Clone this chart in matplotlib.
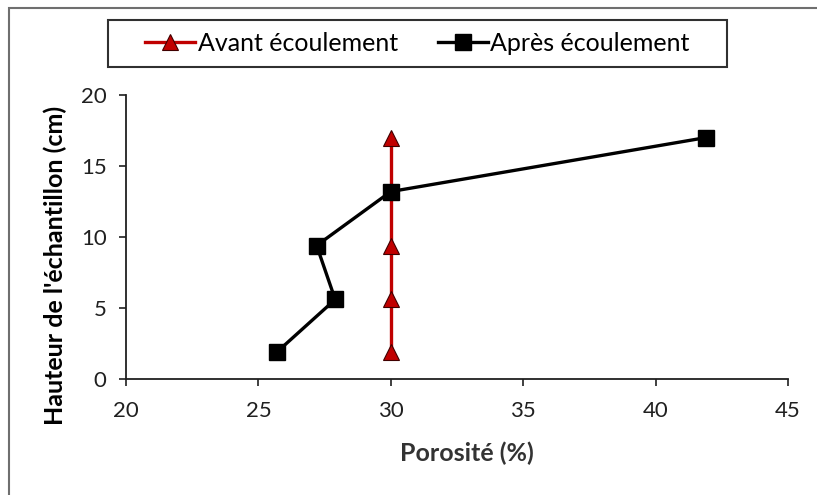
import matplotlib
matplotlib.use("Agg")
import matplotlib.pyplot as plt
from matplotlib.patches import Rectangle

# Data
avant_x = [30, 30, 30, 30]
avant_y = [1.9, 5.6, 9.4, 17.0]
apres_x = [25.7, 27.9, 27.2, 30.0, 41.9]
apres_y = [1.9, 5.6, 9.4, 13.2, 17.0]
x_ticks = [20, 25, 30, 35, 40, 45]
y_ticks = [0, 5, 10, 15, 20]

plt.rcParams['font.family'] = ['Lato', 'DejaVu Sans']

fig = plt.figure(figsize=(8.17, 4.95), dpi=100)
ax = fig.add_axes([126 / 817, 1 - 379 / 495, (788 - 126) / 817, (379 - 95) / 495])

red = '#C00000'
ax.plot(avant_x, avant_y, color=red, lw=2.4, marker='^', ms=12,
        mfc=red, mec='#400000', mew=0.8, label='Avant écoulement', zorder=3)
ax.plot(apres_x, apres_y, color='black', lw=2.4, marker='s', ms=11.5,
        mfc='black', mec='black', label='Après écoulement', zorder=4)

ax.set_xlim(20, 45)
ax.set_ylim(0, 20)
ax.set_xticks(x_ticks)
ax.set_yticks(y_ticks)
ax.tick_params(labelsize=16, direction='out', length=5, color='#202020', width=1.2,
               labelcolor='#202020')
ax.tick_params(axis='x', pad=11)
ax.tick_params(axis='y', pad=9)
for s in ['top', 'right']:
    ax.spines[s].set_visible(False)
for s in ['left', 'bottom']:
    ax.spines[s].set_color('#202020')
    ax.spines[s].set_linewidth(1.3)

ax.set_xlabel('Porosité (%)', fontsize=18, fontweight='bold', color='#333333')
ax.set_ylabel("Hauteur de l'échantillon (cm)", fontsize=18, fontweight='bold')
ax.xaxis.set_label_coords((467 - 126) / 662, -(453 - 379) / 284)
ax.yaxis.set_label_coords(-(126 - 55) / 662, (379 - 265) / 284)
ax.yaxis.label.set_va('center')
ax.xaxis.label.set_va('center')

# chart area border (Excel style), only left and top visible
fig.patches.append(Rectangle((9 / 817, -0.1), 1.1, 1 - 8 / 495 + 0.1,
                             transform=fig.transFigure, fill=False,
                             edgecolor='#6f6f6f', lw=1.5))
# legend box
fig.patches.append(Rectangle((108 / 817, 1 - 67 / 495), (727 - 108) / 817, 47 / 495,
                             transform=fig.transFigure, fill=False,
                             edgecolor='#303030', lw=1.5))
ax.legend(loc='center', bbox_to_anchor=((108 + 727) / 2 / 817, 1 - 43.5 / 495),
          bbox_transform=fig.transFigure, ncol=2, frameon=False, fontsize=18,
          handlelength=2.0, handletextpad=0.1, columnspacing=1.6)

fig.savefig('out.png', dpi=100)
